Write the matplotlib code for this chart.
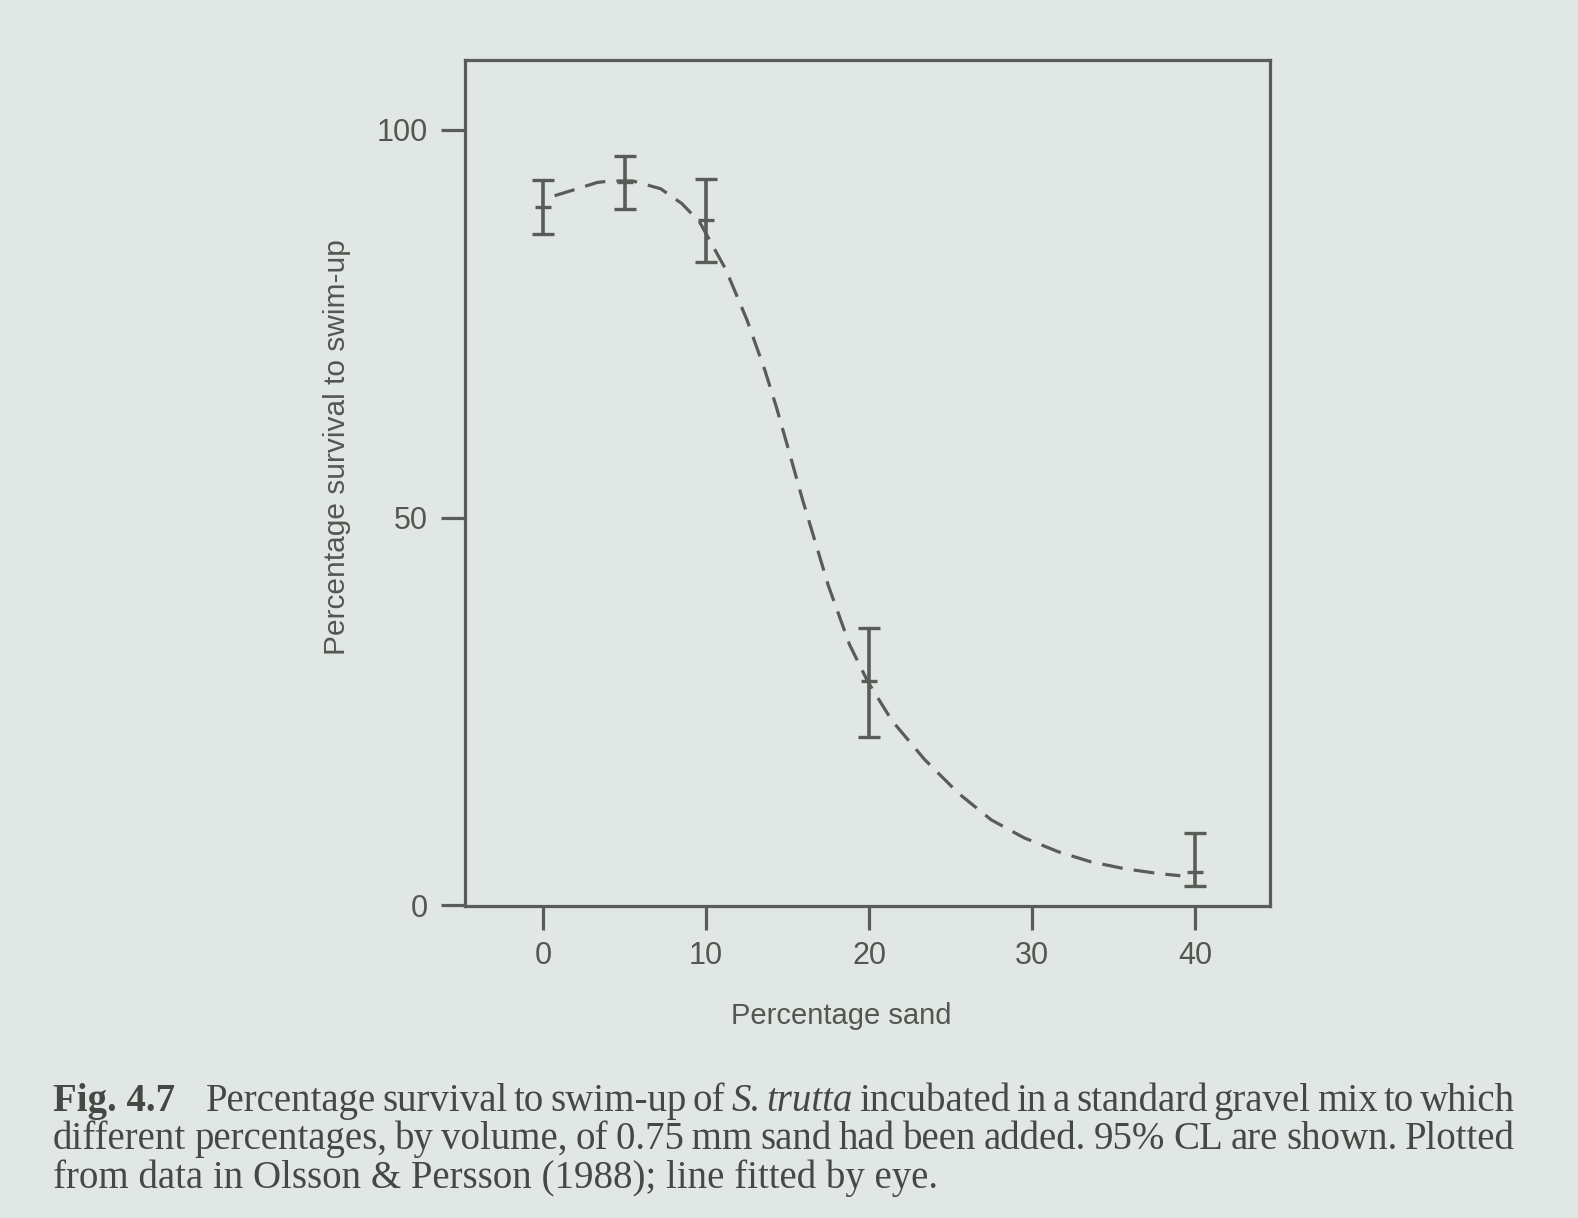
import matplotlib
matplotlib.use('Agg')
import matplotlib.pyplot as plt

# Survival to swim-up (%) with 95% confidence limits
SAND_PCT = [0, 5, 10, 20, 40]
SURVIVAL = [90.0, 93.3, 88.4, 28.9, 4.3]
CL_LOW = [86.5, 89.8, 83.0, 21.7, 2.5]
CL_HIGH = [93.5, 96.6, 93.7, 35.7, 9.3]

# Line fitted by eye
FIT_X = [0.7, 2.1, 3.3, 4.1, 5.5, 7.2, 8.5, 9.6, 11.2, 12.5, 13.6, 14.3,
         15.1, 15.9, 16.7, 17.5, 18.8, 19.9, 21.4, 23.4, 25.5, 27.5, 29.5,
         31.6, 33.6, 35.7, 37.7, 39.1]
FIT_Y = [91.5, 92.4, 93.2, 93.4, 93.4, 92.4, 90.5, 88.1, 82.0, 75.5, 69.0,
         64.3, 58.4, 52.4, 46.8, 41.2, 33.6, 28.9, 23.8, 18.8, 14.4, 11.0,
         8.7, 6.9, 5.6, 4.7, 4.1, 3.8]

X_TICKS = [0, 10, 20, 30, 40]
Y_TICKS = [0, 50, 100]

CAPTION_1 = 'Percentage survival to swim-up of'
CAPTION_1_SPECIES = 'S. trutta'
CAPTION_1_END = 'incubated in a standard gravel mix to which'
CAPTION_2 = ('different percentages, by volume, of 0.75\u2009mm sand had been '
             'added. 95% CL are shown. Plotted')
CAPTION_3 = 'from data in Olsson & Persson (1988); line fitted by eye.'

BG = '#e1e7e5'
INK = '#585d57'
TEXT = '#52574f'
PRINT = '#454944'

W, H = 1578, 1218
SANS = ['Liberation Sans', 'DejaVu Sans']
SERIF = ['Liberation Serif', 'DejaVu Serif']

plt.rcParams['font.family'] = SANS


def fx(px):
    return px / W


def fy(px):
    return 1 - px / H


def justified_line(fig, renderer, words, x0, x1, y, size):
    texts = []
    for word, style in words:
        t = fig.text(fx(x0), fy(y), word, family=SERIF, size=size,
                     color=PRINT, va='baseline', **style)
        texts.append(t)
    widths = [t.get_window_extent(renderer).width for t in texts]
    gap = (x1 - x0 - sum(widths)) / (len(texts) - 1)
    x = x0
    for t, w in zip(texts, widths):
        t.set_x(fx(x))
        x += w + gap


fig = plt.figure(figsize=(W / 100, H / 100), dpi=100)
fig.set_facecolor(BG)
ax = fig.add_axes([fx(465), fy(906), fx(1270 - 465), (906 - 60) / H])
ax.set_facecolor(BG)

ax.errorbar(
    SAND_PCT, SURVIVAL,
    yerr=[[m - lo for m, lo in zip(SURVIVAL, CL_LOW)],
          [hi - m for m, hi in zip(SURVIVAL, CL_HIGH)]],
    fmt='_', ms=11, mew=2.4, color=INK,
    elinewidth=2.6, capsize=8, capthick=2.8,
)
ax.plot(FIT_X, FIT_Y, color=INK, lw=2.3, ls=(0, (6.5, 3.5)))

ax.set_xlim(-4.8, 44.6)
ax.set_ylim(-0.1, 109)
ax.set_xticks(X_TICKS)
ax.set_yticks(Y_TICKS)

for spine in ax.spines.values():
    spine.set_linewidth(2.3)
    spine.set_color(INK)

ax.tick_params(direction='out', length=17, width=2.3, color=INK,
               labelsize=22, labelcolor=TEXT)
ax.tick_params(axis='x', pad=8)
ax.tick_params(axis='y', pad=10)

ax.set_xlabel('Percentage sand', size=21, color=TEXT, va='baseline')
ax.xaxis.set_label_coords(0.467, -0.1395)
ax.set_ylabel('Percentage survival to swim-up', size=21.5, color=TEXT,
              va='center')
ax.yaxis.set_label_coords(-0.159, 0.5426)

# Caption under the figure
renderer = fig.canvas.get_renderer()
cap_size = 28
fig.text(fx(53), fy(1111), 'Fig. 4.7', family=SERIF, size=cap_size,
         weight='bold', color=PRINT, va='baseline')

words_1 = [(w, {}) for w in CAPTION_1.split()]
words_1 += [(w, {'style': 'italic'}) for w in CAPTION_1_SPECIES.split()]
words_1 += [(w, {}) for w in CAPTION_1_END.split()]
justified_line(fig, renderer, words_1, 206, 1515, 1111, cap_size)

words_2 = [(w, {}) for w in CAPTION_2.split(' ')]
justified_line(fig, renderer, words_2, 53, 1515, 1149, cap_size)

fig.text(fx(53), fy(1188), CAPTION_3, family=SERIF, size=cap_size,
         color=PRINT, va='baseline')

fig.savefig('out.png', dpi=100, facecolor=BG)
